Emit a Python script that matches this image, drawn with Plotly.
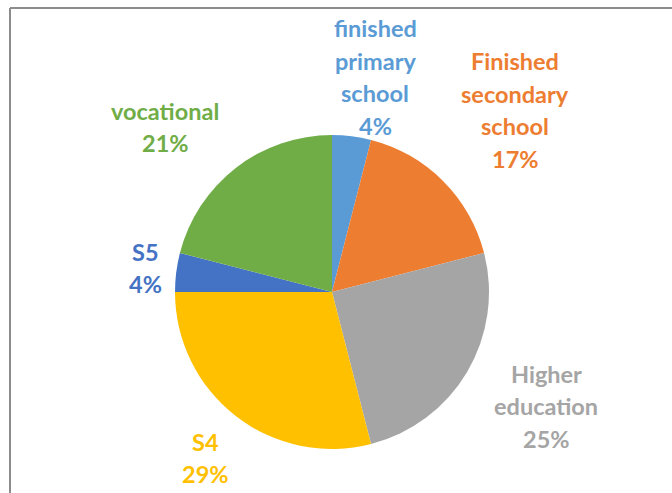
import plotly.graph_objects as go

W, H = 672, 493

categories = ["finished primary school", "Finished secondary school", "Higher education",
              "S4", "S5", "vocational"]
values = [4, 17, 25, 29, 4, 21]
label_lines = [
    ["finished", "primary", "school", "4%"],
    ["Finished", "secondary", "school", "17%"],
    ["Higher", "education", "25%"],
    ["S4", "29%"],
    ["S5", "4%"],
    ["vocational", "21%"],
]
colors = ["#5B9BD5", "#ED7D31", "#A5A5A5", "#FFC000", "#4472C4", "#70AD47"]

# label block centres (pixels) - layout only
label_pos = [(375, 77), (515, 110), (546, 406), (205, 458), (145, 268), (165, 127)]
line_gap = 32.5

def px(x):
    return x / W

def py(y):
    return 1 - y / H

cx, cy, r = 332, 292, 157

fig = go.Figure(go.Pie(
    labels=categories,
    values=values,
    sort=False,
    direction="clockwise",
    rotation=0,
    marker=dict(colors=colors, line=dict(width=0)),
    textinfo="none",
    hoverinfo="label+percent",
    showlegend=False,
    domain=dict(x=[px(cx - r), px(cx + r)], y=[py(cy + r), py(cy - r)]),
))

annotations = []
for lines, (lx, ly), col in zip(label_lines, label_pos, colors):
    n = len(lines)
    for i, t in enumerate(lines):
        yy = ly + (i - (n - 1) / 2) * line_gap
        annotations.append(dict(
            x=px(lx), y=py(yy), xref="paper", yref="paper",
            text="<b>" + t + "</b>", showarrow=False,
            xanchor="center", yanchor="middle",
            font=dict(family="Lato, Open Sans, sans-serif", size=23.5, color=col),
        ))

fig.update_layout(
    width=W, height=H,
    margin=dict(l=0, r=0, t=0, b=0),
    paper_bgcolor="white",
    plot_bgcolor="white",
    annotations=annotations,
    shapes=[
        dict(type="line", xref="paper", yref="paper", x0=px(10), x1=1.0, y0=py(8), y1=py(8),
             line=dict(color="#8C8C8C", width=2)),
        dict(type="line", xref="paper", yref="paper", x0=px(10), x1=px(10), y0=py(8), y1=0,
             line=dict(color="#8C8C8C", width=2)),
    ],
)

fig.write_html("out.html", config={"displayModeBar": False},
               post_script="document.body.style.margin='0';")
